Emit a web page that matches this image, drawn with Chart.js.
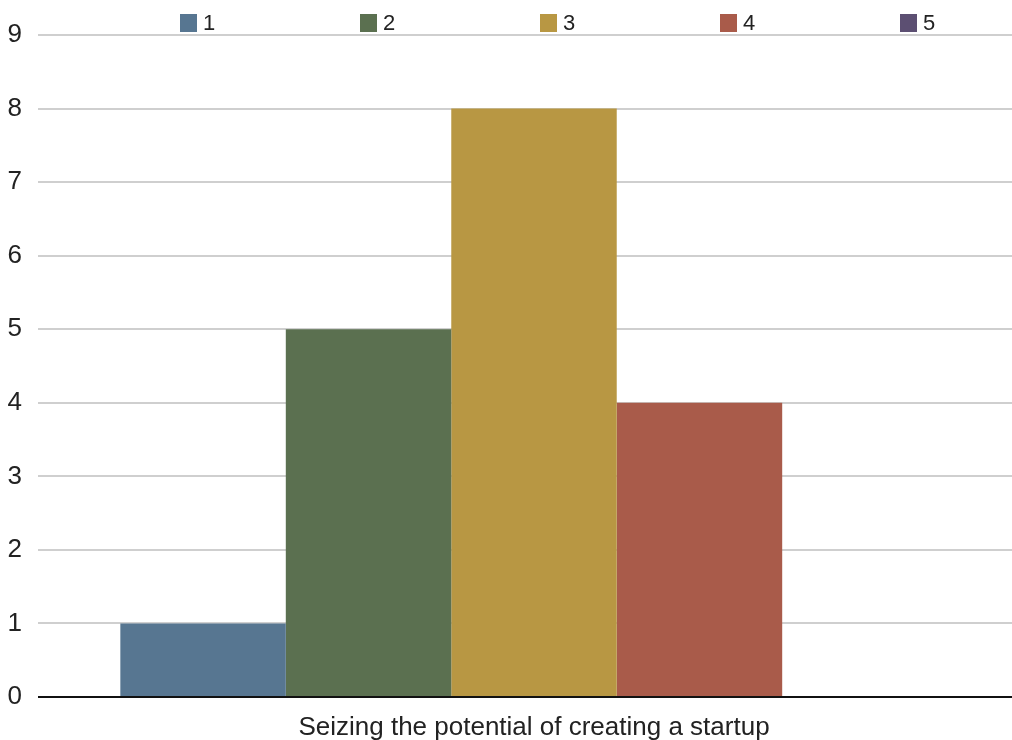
<!DOCTYPE html>
<html>
<head>
<meta charset="utf-8">
<script src="https://cdn.jsdelivr.net/npm/chart.js@4/dist/chart.umd.min.js"></script>
<style>
  html, body { margin: 0; padding: 0; background: #fff; overflow: hidden; }
  #wrap { width: 1030px; height: 740px; }
</style>
</head>
<body>
<div id="wrap"><canvas id="chart" width="1030" height="740"></canvas></div>
<script>
const categories = ["Seizing the potential of creating a startup"];
const seriesNames = ["1", "2", "3", "4", "5"];
const seriesValues = [[1], [5], [8], [4], [0]];
const seriesColors = ["#577691", "#5b7050", "#b89743", "#a95b4a", "#5c4f72"];
const yTicks = [0, 1, 2, 3, 4, 5, 6, 7, 8, 9];

const FONT = "'Liberation Sans', Arial, sans-serif";

// legend across the top, evenly spaced
const topLegend = {
  id: "topLegend",
  afterDraw(chart) {
    const ctx = chart.ctx;
    const area = chart.chartArea;
    ctx.save();
    ctx.font = "22px " + FONT;
    ctx.textBaseline = "middle";
    ctx.textAlign = "left";
    chart.data.datasets.forEach((ds, i) => {
      const x = area.left + 142 + i * 180;
      const y = 23;
      ctx.fillStyle = ds.backgroundColor;
      ctx.fillRect(x, y - 9, 17, 18);
      ctx.fillStyle = "#222";
      ctx.fillText(ds.label, x + 23, y + 1);
    });
    ctx.restore();
  }
};

new Chart(document.getElementById("chart"), {
  type: "bar",
  data: {
    labels: categories,
    datasets: seriesNames.map((name, i) => ({
      label: name,
      data: seriesValues[i],
      backgroundColor: seriesColors[i],
      borderWidth: 0,
      barPercentage: 1,
      categoryPercentage: 0.834
    }))
  },
  options: {
    responsive: false,
    animation: false,
    layout: { padding: { top: 35, left: 0, right: 0, bottom: 0 } },
    plugins: {
      legend: { display: false },
      tooltip: { enabled: false }
    },
    scales: {
      x: {
        afterFit(scale) { scale.height = 43; },
        grid: { display: false, drawTicks: false },
        border: { display: false },
        ticks: { color: "#222", font: { family: FONT, size: 26 }, padding: 15 }
      },
      y: {
        min: yTicks[0],
        max: yTicks[yTicks.length - 1],
        afterBuildTicks(scale) {
          scale.ticks = yTicks.map(v => ({ value: v }));
        },
        afterFit(scale) { scale.width = 38; },
        grid: {
          drawTicks: false,
          lineWidth: 2,
          color: ctx => (ctx.tick && ctx.tick.value === 0 ? "#111" : "#cfcfcf")
        },
        border: { display: false },
        ticks: { color: "#222", font: { family: FONT, size: 26 }, padding: 16 }
      }
    }
  },
  plugins: [topLegend]
});
</script>
</body>
</html>
